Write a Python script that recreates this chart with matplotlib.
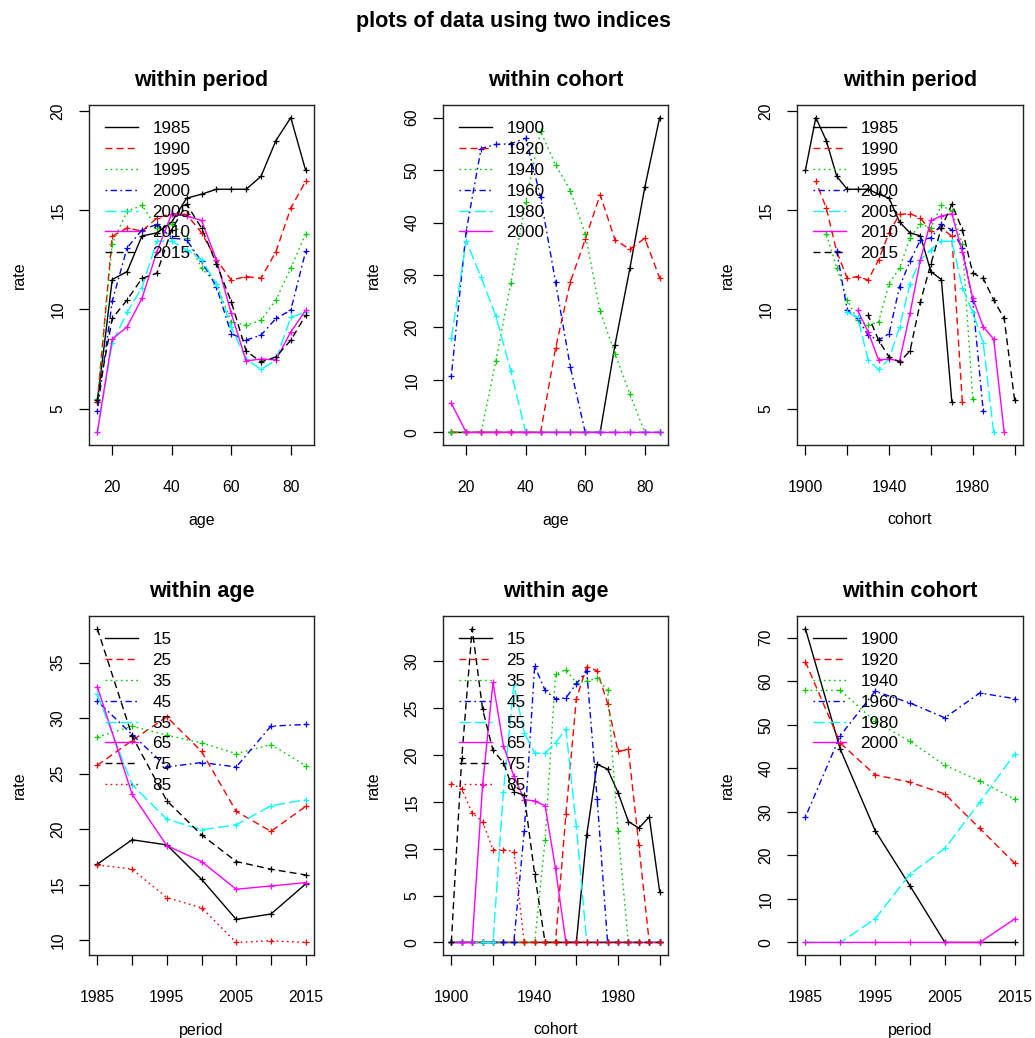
import numpy as np
import matplotlib
matplotlib.use("Agg")
import matplotlib.pyplot as plt
from matplotlib.lines import Line2D

plt.rcParams['font.family'] = ['Liberation Sans', 'DejaVu Sans']

# indices
ages = [15, 20, 25, 30, 35, 40, 45, 50, 55, 60, 65, 70, 75, 80, 85]
periods = [1985, 1990, 1995, 2000, 2005, 2010, 2015]
cohorts = list(range(1900, 2001, 5))
age_groups = [15, 25, 35, 45, 55, 65, 75, 85]
cohort_groups = [1900, 1920, 1940, 1960, 1980, 2000]

# rate by age, one list per period (top left and top right panels)
rate_1985 = [5.33, 11.5, 11.9, 13.7, 13.85, 14.4, 15.6, 15.8, 16.05, 16.05, 16.05, 16.7, 18.5, 19.66, 17.0]
rate_1990 = [5.33, 13.68, 14.1, 13.94, 14.6, 14.82, 14.78, 13.86, 12.5, 11.48, 11.65, 11.57, 12.9, 15.1, 16.45]
rate_1995 = [5.5, 13.3, 14.95, 15.24, 14.1, 14.3, 13.6, 12.08, 11.3, 9.37, 9.2, 9.45, 10.47, 12.08, 13.8]
rate_2000 = [4.87, 10.4, 13.1, 14.0, 14.28, 13.6, 13.5, 12.42, 11.14, 8.77, 8.45, 8.7, 9.54, 9.96, 12.92]
rate_2005 = [3.8, 8.3, 9.85, 11.1, 13.43, 13.43, 13.0, 12.5, 11.3, 9.1, 7.5, 6.97, 7.45, 9.6, 9.85]
rate_2010 = [3.82, 8.5, 9.12, 10.55, 12.9, 14.82, 14.7, 14.48, 12.5, 9.8, 7.4, 7.5, 7.45, 8.86, 9.95]
rate_2015 = [5.42, 9.54, 10.47, 11.56, 11.82, 14.02, 15.3, 14.1, 12.3, 10.39, 7.9, 7.35, 7.6, 8.44, 9.7]
rate_by_period = [rate_1985, rate_1990, rate_1995, rate_2000, rate_2005, rate_2010, rate_2015]

# within cohort, by age (top middle)
ac_1900 = [0, 0, 0, 0, 0, 0, 0, 0, 0, 0, 0, 16.7, 31.3, 46.7, 60.0]
ac_1920 = [0, 0, 0, 0, 0, 0, 0, 16.0, 28.7, 36.8, 45.3, 36.7, 34.9, 37.0, 29.4]
ac_1940 = [0, 0, 0, 13.7, 28.5, 44.0, 57.4, 51.0, 46.1, 37.8, 23.1, 15.0, 7.3, 0, 0]
ac_1960 = [10.8, 38.4, 54.1, 54.9, 55.0, 56.1, 44.8, 28.7, 12.4, 0, 0, 0, 0, 0, 0]
ac_1980 = [18.0, 36.5, 29.6, 22.1, 11.7, 0, 0, 0, 0, 0, 0, 0, 0, 0, 0]
ac_2000 = [5.55, 0, 0, 0, 0, 0, 0, 0, 0, 0, 0, 0, 0, 0, 0]

# within age, by period (bottom left)
ap_15 = [16.84, 19.04, 18.58, 15.48, 11.87, 12.35, 15.06]
ap_25 = [25.75, 27.98, 30.12, 27.0, 21.6, 19.8, 22.05]
ap_35 = [28.28, 29.28, 28.46, 27.77, 26.8, 27.62, 25.72]
ap_45 = [31.54, 28.52, 25.6, 26.0, 25.6, 29.28, 29.43]
ap_55 = [32.14, 24.0, 20.9, 19.94, 20.39, 22.1, 22.65]
ap_65 = [32.83, 23.16, 18.52, 17.08, 14.58, 14.88, 15.18]
ap_75 = [38.07, 28.4, 22.56, 19.49, 17.08, 16.39, 15.87]
ap_85 = [16.78, 16.39, 13.83, 12.92, 9.79, 9.94, 9.79]

# within age, by cohort 1900..2000 (bottom middle)
acoh_15 = [0] * 13 + [11.5, 19.0, 18.5, 16.0, 12.9, 12.2, 13.4, 5.43]
acoh_25 = [0] * 11 + [13.7, 26.0, 29.4, 29.0, 25.5, 20.4, 20.6, 10.4, 0, 0]
acoh_35 = [0] * 9 + [10.9, 28.6, 29.1, 27.7, 27.9, 28.2, 26.9, 11.9] + [0] * 4
acoh_45 = [0] * 7 + [11.9, 29.5, 26.9, 26.0, 26.1, 27.6, 29.0, 15.3] + [0] * 6
acoh_55 = [0] * 5 + [16.1, 27.5, 22.4, 20.2, 20.2, 21.3, 22.75, 12.4] + [0] * 8
acoh_65 = [0] * 3 + [16.8, 27.75, 21.0, 17.75, 15.25, 15.1, 14.6, 7.9] + [0] * 10
acoh_75 = [0, 19.7, 33.5, 24.9, 20.5, 19.2, 16.1, 15.7, 7.3] + [0] * 12
acoh_85 = [16.96, 16.4, 13.8, 12.9, 9.9, 9.9, 9.7] + [0] * 14

# within cohort, by period (bottom right)
pc_1900 = [72.1, 44.4, 25.7, 13.0, 0, 0, 0]
pc_1920 = [64.5, 45.8, 38.5, 36.8, 34.1, 26.2, 18.2]
pc_1940 = [57.9, 57.9, 50.8, 46.2, 40.7, 37.1, 32.9]
pc_1960 = [28.8, 47.5, 57.7, 55.0, 51.6, 57.3, 56.0]
pc_1980 = [0, 0, 5.4, 15.7, 21.6, 32.2, 43.3]
pc_2000 = [0, 0, 0, 0, 0, 0, 5.4]

# R default palette and line types
COLS = ['black', 'red', '#00CD00', 'blue', 'cyan', 'magenta']
LTYS = ['-', (0, (5, 3)), (0, (1.2, 2.5)), (0, (1.2, 2.5, 4.5, 2.5)), (0, (8, 3))]

W, H = 1035, 1038
fig = plt.figure(figsize=(W / 100, H / 100), dpi=100)


def matplot(box, xs, series, labels, title, xlabel, xticks, xticklabels, yticks):
    """Draw one panel in the style of R's matplot with a legend."""
    left, top, right, bottom = box
    ax = fig.add_axes([left / W, 1 - bottom / H, (right - left) / W, (bottom - top) / H])
    handles = []
    for i, ys in enumerate(series):
        x = xs[i] if isinstance(xs[0], (list, np.ndarray)) else xs
        ax.plot(x, ys, color=COLS[i % 6], linestyle=LTYS[i % 5], lw=1.0,
                marker='+', ms=4, mew=0.9)
        # legend shows the line only, as in R
        handles.append(Line2D([], [], color=COLS[i % 6], linestyle=LTYS[i % 5], lw=1.0))
    ax.margins(0.04)
    ax.set_xticks(xticks)
    ax.set_xticklabels(xticklabels)
    ax.set_yticks(yticks)
    ax.set_yticklabels([str(v) for v in yticks], rotation=90, va='center')
    ax.tick_params(direction='out', length=7, width=0.9, labelsize=11.3)
    ax.tick_params(axis='x', pad=18)
    ax.tick_params(axis='y', pad=10)
    for s in ax.spines.values():
        s.set_linewidth(1.0)
        s.set_color('#222222')
    ax.set_title(title, fontsize=15.5, fontweight='bold', pad=14)
    ax.set_xlabel(xlabel, fontsize=11.5)
    ax.xaxis.label.set_va('center')
    ax.xaxis.set_label_coords(0.5, -75 / (bottom - top))
    ax.set_ylabel('rate', fontsize=11.5)
    ax.yaxis.label.set_va('center')
    ax.yaxis.set_label_coords(-70 / (right - left), 0.5)
    ax.legend(handles, [str(l) for l in labels], loc='upper left',
              bbox_to_anchor=(0.071, 0.952), frameon=False,
              fontsize=12.3, handlelength=1.95, handletextpad=0.82,
              labelspacing=0.34, borderpad=0, borderaxespad=0)
    return ax


cols_x = [(89, 314), (443, 668), (797, 1023)]
row1 = (105, 445)
row2 = (616, 955)

coh_ticks = [1900, 1920, 1940, 1960, 1980, 2000]
coh_labels = ['1900', '', '1940', '', '1980', '']
per_ticks = periods
per_labels = ['1985', '', '1995', '', '2005', '', '2015']

# top row
matplot((cols_x[0][0], row1[0], cols_x[0][1], row1[1]), ages, rate_by_period, periods,
        'within period', 'age', [20, 40, 60, 80], ['20', '40', '60', '80'], [5, 10, 15, 20])
matplot((cols_x[1][0], row1[0], cols_x[1][1], row1[1]), ages,
        [ac_1900, ac_1920, ac_1940, ac_1960, ac_1980, ac_2000], cohort_groups,
        'within cohort', 'age', [20, 40, 60, 80], ['20', '40', '60', '80'], list(range(0, 61, 10)))
# same data as the first panel, against cohort = period - age
coh_x = [[p - a for a in ages] for p in periods]
matplot((cols_x[2][0], row1[0], cols_x[2][1], row1[1]), coh_x, rate_by_period, periods,
        'within period', 'cohort', coh_ticks, coh_labels, [5, 10, 15, 20])

# bottom row
matplot((cols_x[0][0], row2[0], cols_x[0][1], row2[1]), periods,
        [ap_15, ap_25, ap_35, ap_45, ap_55, ap_65, ap_75, ap_85], age_groups,
        'within age', 'period', per_ticks, per_labels, list(range(10, 36, 5)))
matplot((cols_x[1][0], row2[0], cols_x[1][1], row2[1]), cohorts,
        [acoh_15, acoh_25, acoh_35, acoh_45, acoh_55, acoh_65, acoh_75, acoh_85], age_groups,
        'within age', 'cohort', coh_ticks, coh_labels, list(range(0, 31, 5)))
matplot((cols_x[2][0], row2[0], cols_x[2][1], row2[1]), periods,
        [pc_1900, pc_1920, pc_1940, pc_1960, pc_1980, pc_2000], cohort_groups,
        'within cohort', 'period', per_ticks, per_labels, list(range(0, 71, 10)))

fig.text(0.496, 1 - 22 / H, 'plots of data using two indices', ha='center', va='center',
         fontsize=15.5, fontweight='bold')

fig.savefig('out.png', dpi=100)
